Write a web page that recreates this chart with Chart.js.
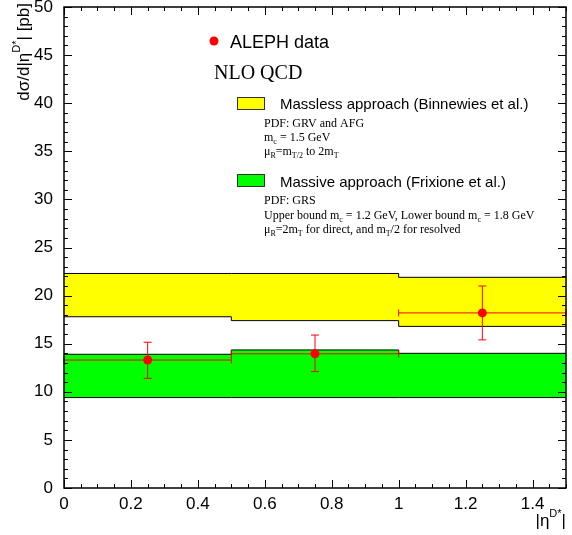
<!DOCTYPE html>
<html>
<head>
<meta charset="utf-8">
<script src="https://cdn.jsdelivr.net/npm/chart.js@4"></script>
<style>
  html, body { margin: 0; padding: 0; background: #fff; }
  canvas { display: block; }
</style>
</head>
<body>
<canvas id="plot" width="572" height="535"></canvas>
<script>
// bin edges in |eta| and the theory bands per bin
const binEdges = [0, 0.5, 1.0, 1.5];
const masslessUpper = [22.3, 22.3, 21.9];
const masslessLower = [17.8, 17.4, 16.8];
const massiveUpper = [13.9, 14.35, 14.0];
const massiveLower = [9.4, 9.4, 9.4];

// ALEPH measurement
const alephEta = [0.25, 0.75, 1.25];
const alephXsec = [13.3, 13.95, 18.2];
const alephErrUp = [1.85, 1.95, 2.8];
const alephErrDown = [1.9, 1.85, 2.8];

const xTickVals = [0, 0.2, 0.4, 0.6, 0.8, 1, 1.2, 1.4];
const yTickVals = [0, 5, 10, 15, 20, 25, 30, 35, 40, 45, 50];

const SANS = '"Liberation Sans", Arial, sans-serif';
const SERIF = '"Liberation Serif", "Times New Roman", serif';

function stepPoints(vals) {
  return binEdges.map((e, i) => ({x: e, y: vals[Math.min(i, vals.length - 1)]}));
}

// draw a line of text made of runs (sub/superscripts)
function drawRuns(ctx, x, y, runs, align) {
  let total = 0;
  runs.forEach(r => {
    ctx.font = r.size + 'px ' + r.family;
    r.w = ctx.measureText(r.t).width;
    total += r.w;
  });
  let cx = align === 'right' ? x - total : x;
  ctx.textAlign = 'left';
  ctx.textBaseline = 'alphabetic';
  runs.forEach(r => {
    ctx.font = r.size + 'px ' + r.family;
    ctx.fillText(r.t, cx, y + (r.dy || 0));
    cx += r.w;
  });
}

const S = (t, size, dy) => ({t, size, dy: dy || 0, family: SERIF});
const A = (t, size, dy) => ({t, size, dy: dy || 0, family: SANS});

const errorBars = {
  id: 'errorBars',
  beforeDatasetDraw(chart, args) {
    if (args.index !== 0) return;
    const {ctx, scales: {x, y}} = chart;
    ctx.save();
    ctx.strokeStyle = '#ff0000';
    ctx.lineWidth = 1;
    alephEta.forEach((eta, i) => {
      const px = x.getPixelForValue(eta);
      const py = y.getPixelForValue(alephXsec[i]);
      const x0 = x.getPixelForValue(binEdges[i]);
      const x1 = x.getPixelForValue(binEdges[i + 1]);
      const yt = y.getPixelForValue(alephXsec[i] + alephErrUp[i]);
      const yb = y.getPixelForValue(alephXsec[i] - alephErrDown[i]);
      ctx.beginPath();
      ctx.moveTo(x0, py); ctx.lineTo(x1, py);
      ctx.moveTo(x0, py - 3.5); ctx.lineTo(x0, py + 3.5);
      ctx.moveTo(x1, py - 3.5); ctx.lineTo(x1, py + 3.5);
      ctx.moveTo(px, yt); ctx.lineTo(px, yb);
      ctx.moveTo(px - 4, yt); ctx.lineTo(px + 4, yt);
      ctx.moveTo(px - 4, yb); ctx.lineTo(px + 4, yb);
      ctx.stroke();
    });
    ctx.restore();
  }
};

const frameAndText = {
  id: 'frameAndText',
  afterDraw(chart) {
    const {ctx, chartArea: a, scales: {x, y}} = chart;
    ctx.save();
    ctx.strokeStyle = '#000';
    ctx.lineWidth = 1;
    ctx.beginPath();
    // y ticks, left and right, pointing inward
    for (let v = 0; v <= 50; v++) {
      const py = Math.round(y.getPixelForValue(v)) + 0.5;
      const len = v % 5 === 0 ? 8 : 4;
      ctx.moveTo(a.left, py); ctx.lineTo(a.left + len, py);
      ctx.moveTo(a.right, py); ctx.lineTo(a.right - len, py);
    }
    // x ticks, bottom and top
    for (let k = 0; k <= 30; k++) {
      const v = k * 0.05;
      const px = Math.round(x.getPixelForValue(v)) + 0.5;
      const len = k % 4 === 0 ? 8 : 4;
      ctx.moveTo(px, a.bottom); ctx.lineTo(px, a.bottom - len);
      ctx.moveTo(px, a.top); ctx.lineTo(px, a.top + len);
    }
    ctx.stroke();
    ctx.lineWidth = 1.5;
    ctx.strokeRect(a.left, a.top, a.right - a.left, a.bottom - a.top);

    ctx.fillStyle = '#000';
    // axis titles
    ctx.save();
    ctx.translate(29, 3);
    ctx.rotate(-Math.PI / 2);
    drawRuns(ctx, 0, 0, [A('d\u03c3/d|\u03b7', 17), A('D*', 11, -9), A('| [pb]', 17)], 'right');
    ctx.restore();
    drawRuns(ctx, 566, 526, [A('|\u03b7', 17), A('D*', 11, -9), A('|', 17)], 'right');

    // legend
    ctx.fillStyle = '#ff0000';
    ctx.beginPath();
    ctx.arc(214, 41, 4.5, 0, Math.PI * 2);
    ctx.fill();
    ctx.fillStyle = '#000';
    drawRuns(ctx, 230, 48, [A('ALEPH data', 18)]);
    drawRuns(ctx, 214, 79, [S('NLO QCD', 20)]);

    ctx.lineWidth = 1;
    ctx.fillStyle = '#ffff00';
    ctx.fillRect(237.5, 97.5, 27, 12);
    ctx.strokeStyle = '#333';
    ctx.strokeRect(237.5, 97.5, 27, 12);
    ctx.fillStyle = '#00ff00';
    ctx.fillRect(237.5, 174.5, 27, 12);
    ctx.strokeRect(237.5, 174.5, 27, 12);

    ctx.fillStyle = '#000';
    drawRuns(ctx, 280, 109, [A('Massless approach (Binnewies et al.)', 15)]);
    drawRuns(ctx, 264, 127, [S('PDF: GRV and AFG', 12)]);
    drawRuns(ctx, 264, 141, [S('m', 12), S('c', 8, 3), S(' = 1.5 GeV', 12)]);
    drawRuns(ctx, 264, 155, [S('\u03bc', 12), S('R', 8, 3), S('=m', 12), S('T/2', 8, 3), S(' to 2m', 12), S('T', 8, 3)]);

    drawRuns(ctx, 280, 187, [A('Massive approach (Frixione et al.)', 15)]);
    drawRuns(ctx, 264, 204, [S('PDF: GRS', 12)]);
    drawRuns(ctx, 264, 219, [S('Upper bound m', 12), S('c', 8, 3), S(' = 1.2 GeV, Lower bound m', 12), S('c', 8, 3), S(' = 1.8 GeV', 12)]);
    drawRuns(ctx, 264, 233, [S('\u03bc', 12), S('R', 8, 3), S('=2m', 12), S('T', 8, 3), S(' for direct, and m', 12), S('T', 8, 3), S('/2 for resolved', 12)]);
    ctx.restore();
  }
};

const band = (vals, color, fill) => ({
  data: stepPoints(vals),
  stepped: true,
  borderColor: '#000',
  borderWidth: 1,
  backgroundColor: color,
  fill: fill,
  pointRadius: 0,
  order: 1
});

new Chart(document.getElementById('plot'), {
  type: 'line',
  data: {
    datasets: [
      {
        data: alephEta.map((e, i) => ({x: e, y: alephXsec[i]})),
        showLine: false,
        pointRadius: 4.5,
        pointBackgroundColor: '#ff0000',
        pointBorderColor: '#ff0000',
        pointBorderWidth: 0,
        order: 0
      },
      band(masslessUpper, '#ffff00', '+1'),
      band(masslessLower, '#ffff00', false),
      band(massiveUpper, '#00ff00', '+1'),
      band(massiveLower, '#00ff00', false)
    ]
  },
  options: {
    responsive: false,
    animation: false,
    layout: {padding: {top: 7, right: 6, left: 0, bottom: 0}},
    plugins: {
      legend: {display: false},
      tooltip: {enabled: false},
      filler: {drawTime: 'beforeDatasetsDraw'}
    },
    scales: {
      x: {
        type: 'linear',
        min: 0,
        max: 1.5,
        grid: {display: false, drawTicks: false},
        border: {display: false},
        afterBuildTicks: s => { s.ticks = xTickVals.map(v => ({value: v})); },
        afterFit: s => { s.height = 47; s.paddingLeft = 0; s.paddingRight = 0; },
        ticks: {
          autoSkip: false,
          maxRotation: 0,
          padding: 6,
          color: '#000',
          font: {family: SANS, size: 17},
          callback: v => String(v)
        }
      },
      y: {
        min: 0,
        max: 50,
        grid: {display: false, drawTicks: false},
        border: {display: false},
        afterBuildTicks: s => { s.ticks = yTickVals.map(v => ({value: v})); },
        afterFit: s => { s.width = 64; s.paddingTop = 0; s.paddingBottom = 0; },
        ticks: {
          padding: 11,
          color: '#000',
          font: {family: SANS, size: 17},
          callback: v => String(v)
        }
      }
    }
  },
  plugins: [errorBars, frameAndText]
});
</script>
</body>
</html>
